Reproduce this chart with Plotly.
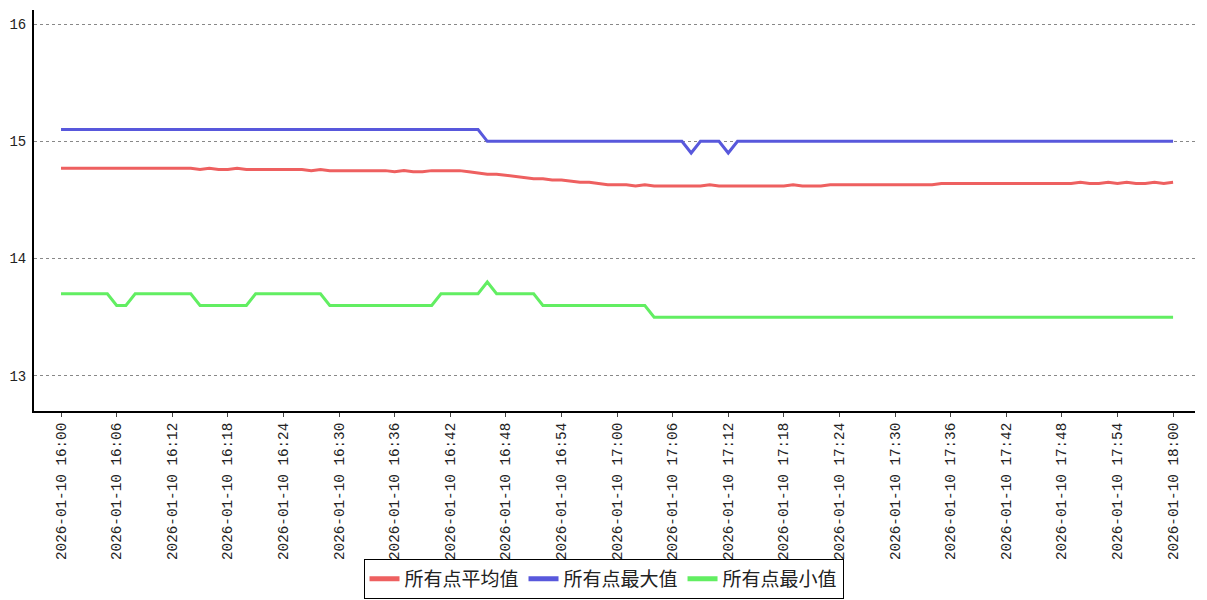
import pandas as pd
import plotly.graph_objects as go

times = pd.date_range("2026-01-10 16:00", "2026-01-10 18:00", freq="1min")

avg_vals = [
    14.77, 14.77, 14.77, 14.77, 14.77, 14.77, 14.77, 14.77, 14.77, 14.77,  # 16:00-16:09
    14.77, 14.77, 14.77, 14.77, 14.77, 14.76, 14.77, 14.76, 14.76, 14.77,  # 16:10-16:19
    14.76, 14.76, 14.76, 14.76, 14.76, 14.76, 14.76, 14.75, 14.76, 14.75,  # 16:20-16:29
    14.75, 14.75, 14.75, 14.75, 14.75, 14.75, 14.74, 14.75, 14.74, 14.74,  # 16:30-16:39
    14.75, 14.75, 14.75, 14.75, 14.74, 14.73, 14.72, 14.72, 14.71, 14.70,  # 16:40-16:49
    14.69, 14.68, 14.68, 14.67, 14.67, 14.66, 14.65, 14.65, 14.64, 14.63,  # 16:50-16:59
    14.63, 14.63, 14.62, 14.63, 14.62, 14.62, 14.62, 14.62, 14.62, 14.62,  # 17:00-17:09
    14.63, 14.62, 14.62, 14.62, 14.62, 14.62, 14.62, 14.62, 14.62, 14.63,  # 17:10-17:19
    14.62, 14.62, 14.62, 14.63, 14.63, 14.63, 14.63, 14.63, 14.63, 14.63,  # 17:20-17:29
    14.63, 14.63, 14.63, 14.63, 14.63, 14.64, 14.64, 14.64, 14.64, 14.64,  # 17:30-17:39
    14.64, 14.64, 14.64, 14.64, 14.64, 14.64, 14.64, 14.64, 14.64, 14.64,  # 17:40-17:49
    14.65, 14.64, 14.64, 14.65, 14.64, 14.65, 14.64, 14.64, 14.65, 14.64,  # 17:50-17:59
    14.65,                                                                 # 18:00
]

max_vals = [
    15.1, 15.1, 15.1, 15.1, 15.1, 15.1, 15.1, 15.1, 15.1, 15.1,  # 16:00-16:09
    15.1, 15.1, 15.1, 15.1, 15.1, 15.1, 15.1, 15.1, 15.1, 15.1,  # 16:10-16:19
    15.1, 15.1, 15.1, 15.1, 15.1, 15.1, 15.1, 15.1, 15.1, 15.1,  # 16:20-16:29
    15.1, 15.1, 15.1, 15.1, 15.1, 15.1, 15.1, 15.1, 15.1, 15.1,  # 16:30-16:39
    15.1, 15.1, 15.1, 15.1, 15.1, 15.1, 15.0, 15.0, 15.0, 15.0,  # 16:40-16:49
    15.0, 15.0, 15.0, 15.0, 15.0, 15.0, 15.0, 15.0, 15.0, 15.0,  # 16:50-16:59
    15.0, 15.0, 15.0, 15.0, 15.0, 15.0, 15.0, 15.0, 14.9, 15.0,  # 17:00-17:09
    15.0, 15.0, 14.9, 15.0, 15.0, 15.0, 15.0, 15.0, 15.0, 15.0,  # 17:10-17:19
    15.0, 15.0, 15.0, 15.0, 15.0, 15.0, 15.0, 15.0, 15.0, 15.0,  # 17:20-17:29
    15.0, 15.0, 15.0, 15.0, 15.0, 15.0, 15.0, 15.0, 15.0, 15.0,  # 17:30-17:39
    15.0, 15.0, 15.0, 15.0, 15.0, 15.0, 15.0, 15.0, 15.0, 15.0,  # 17:40-17:49
    15.0, 15.0, 15.0, 15.0, 15.0, 15.0, 15.0, 15.0, 15.0, 15.0,  # 17:50-17:59
    15.0,                                                        # 18:00
]

min_vals = [
    13.7, 13.7, 13.7, 13.7, 13.7, 13.7, 13.6, 13.6, 13.7, 13.7,  # 16:00-16:09
    13.7, 13.7, 13.7, 13.7, 13.7, 13.6, 13.6, 13.6, 13.6, 13.6,  # 16:10-16:19
    13.6, 13.7, 13.7, 13.7, 13.7, 13.7, 13.7, 13.7, 13.7, 13.6,  # 16:20-16:29
    13.6, 13.6, 13.6, 13.6, 13.6, 13.6, 13.6, 13.6, 13.6, 13.6,  # 16:30-16:39
    13.6, 13.7, 13.7, 13.7, 13.7, 13.7, 13.8, 13.7, 13.7, 13.7,  # 16:40-16:49
    13.7, 13.7, 13.6, 13.6, 13.6, 13.6, 13.6, 13.6, 13.6, 13.6,  # 16:50-16:59
    13.6, 13.6, 13.6, 13.6, 13.5, 13.5, 13.5, 13.5, 13.5, 13.5,  # 17:00-17:09
    13.5, 13.5, 13.5, 13.5, 13.5, 13.5, 13.5, 13.5, 13.5, 13.5,  # 17:10-17:19
    13.5, 13.5, 13.5, 13.5, 13.5, 13.5, 13.5, 13.5, 13.5, 13.5,  # 17:20-17:29
    13.5, 13.5, 13.5, 13.5, 13.5, 13.5, 13.5, 13.5, 13.5, 13.5,  # 17:30-17:39
    13.5, 13.5, 13.5, 13.5, 13.5, 13.5, 13.5, 13.5, 13.5, 13.5,  # 17:40-17:49
    13.5, 13.5, 13.5, 13.5, 13.5, 13.5, 13.5, 13.5, 13.5, 13.5,  # 17:50-17:59
    13.5,                                                        # 18:00
]

series_names = ["所有点平均值", "所有点最大值", "所有点最小值"]
series_colors = ["#ee6060", "#5858dc", "#62ee62"]

fig = go.Figure()
for name, vals, color in zip(series_names, [avg_vals, max_vals, min_vals], series_colors):
    fig.add_trace(go.Scatter(
        x=times, y=vals, mode="lines", name=name,
        line=dict(color=color, width=3),
    ))

y_tick_font = dict(family="Liberation Mono, DejaVu Sans Mono, monospace", size=14, color="#222222")
x_tick_font = dict(family="Liberation Mono, DejaVu Sans Mono, monospace", size=14.3, color="#222222")

fig.update_layout(
    width=1207, height=600,
    paper_bgcolor="white", plot_bgcolor="white",
    margin=dict(l=34, r=12, t=10, b=189, autoexpand=False),
    showlegend=True,
    legend=dict(
        orientation="h",
        xref="container", yref="container",
        x=0.5, xanchor="center",
        y=0.002, yanchor="bottom",
        bordercolor="black", borderwidth=1,
        bgcolor="white",
        font=dict(family="Noto Sans CJK SC", size=19, color="#222222"),
        itemwidth=30, tracegroupgap=0, itemsizing="constant",
    ),
    font=y_tick_font,
)

fig.update_xaxes(
    type="date",
    range=["2026-01-10 15:57:05", "2026-01-10 18:02:22"],
    tickmode="linear",
    tick0="2026-01-10 16:00",
    dtick=6 * 60 * 1000,
    tickformat="%Y-%m-%d %H:%M",
    tickangle=-90,
    ticks="outside", ticklen=4, tickcolor="#444444",
    showline=True, linecolor="black", linewidth=2,
    showgrid=False, zeroline=False,
    automargin=False,
    tickfont=x_tick_font,
)

fig.update_yaxes(
    range=[12.7, 16.12],
    tickmode="array",
    tickvals=[13, 14, 15, 16],
    ticks="outside", ticklen=3, tickcolor="white",
    showline=True, linecolor="black", linewidth=2,
    showgrid=True, gridcolor="#888888", griddash="dot", gridwidth=1,
    zeroline=False,
    automargin=False,
    tickfont=y_tick_font,
)

fig.write_html(
    "out.html",
    config={"displayModeBar": False},
    post_script="document.body.style.margin='0';",
)
